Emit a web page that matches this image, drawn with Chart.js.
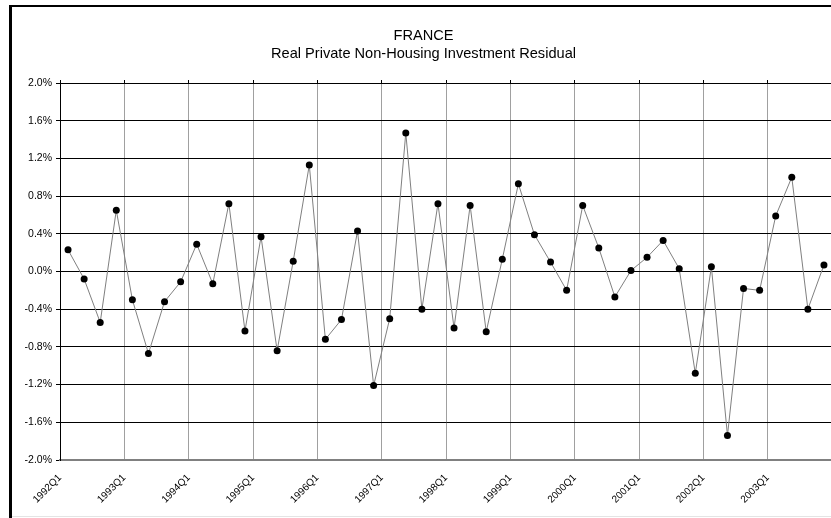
<!DOCTYPE html>
<html>
<head>
<meta charset="utf-8">
<script src="https://cdn.jsdelivr.net/npm/chart.js@4.4.1/dist/chart.umd.min.js"></script>
<style>
  html, body { margin: 0; padding: 0; background: #fff; overflow: hidden; }
  #wrap { width: 844px; height: 518px; }
</style>
</head>
<body>
<div id="wrap"><canvas id="chart" width="844" height="518"></canvas></div>
<script>
// 분기 라벨 (1992Q1 ~ 2003Q4)
const quarters = [
  '1992Q1', '1992Q2', '1992Q3', '1992Q4',
  '1993Q1', '1993Q2', '1993Q3', '1993Q4',
  '1994Q1', '1994Q2', '1994Q3', '1994Q4',
  '1995Q1', '1995Q2', '1995Q3', '1995Q4',
  '1996Q1', '1996Q2', '1996Q3', '1996Q4',
  '1997Q1', '1997Q2', '1997Q3', '1997Q4',
  '1998Q1', '1998Q2', '1998Q3', '1998Q4',
  '1999Q1', '1999Q2', '1999Q3', '1999Q4',
  '2000Q1', '2000Q2', '2000Q3', '2000Q4',
  '2001Q1', '2001Q2', '2001Q3', '2001Q4',
  '2002Q1', '2002Q2', '2002Q3', '2002Q4',
  '2003Q1', '2003Q2', '2003Q3', '2003Q4',
];

// 잔차 값 (%)
const residual = [
  0.23, -0.08, -0.54, 0.65,
  -0.30, -0.87, -0.32, -0.11,
  0.29, -0.13, 0.72, -0.63,
  0.37, -0.84, 0.11, 1.13,
  -0.72, -0.51, 0.43, -1.21,
  -0.50, 1.47, -0.40, 0.72,
  -0.60, 0.70, -0.64, 0.13,
  0.93, 0.39, 0.10, -0.20,
  0.70, 0.25, -0.27, 0.01,
  0.15, 0.33, 0.03, -1.08,
  0.05, -1.74, -0.18, -0.20,
  0.59, 1.00, -0.40, 0.07,
];

// 축 설정
const Y_MIN = -2.0;
const Y_MAX = 2.0;
const Y_STEP = 0.4;
const LABEL_EVERY = 4; // 4분기마다 눈금

const FONT = 'Liberation Sans, Arial, Helvetica, sans-serif';

// 바깥 테두리 (엑셀 차트 영역)
const framePlugin = {
  id: 'frame',
  beforeDraw(chart) {
    const ctx = chart.ctx;
    ctx.save();
    ctx.fillStyle = '#ffffff';
    ctx.fillRect(0, 0, chart.width, chart.height);
    ctx.fillStyle = '#000000';
    ctx.fillRect(9, 5, 3, 513);
    ctx.fillRect(9, 5, chart.width, 2);
    ctx.fillStyle = '#e4e4e4';
    ctx.fillRect(12, 516, chart.width, 1);
    ctx.restore();
  },
};

// 카테고리 중앙에 점을 놓기 위해 x = i + 0.5
const points = residual.map((v, i) => ({ x: i + 0.5, y: v }));

new Chart(document.getElementById('chart'), {
  type: 'line',
  data: {
    datasets: [{
      data: points,
      borderColor: '#808080',
      borderWidth: 1,
      pointRadius: 3.5,
      pointBackgroundColor: '#000000',
      pointBorderWidth: 0,
      tension: 0,
    }],
  },
  plugins: [framePlugin],
  options: {
    responsive: false,
    animation: false,
    layout: { padding: { left: 15, right: 12, top: 0, bottom: 0 } },
    plugins: {
      legend: { display: false },
      tooltip: { enabled: false },
      title: {
        display: true,
        text: 'FRANCE',
        color: '#000',
        font: { family: FONT, size: 14.6, weight: 'normal' },
        padding: { top: 27, bottom: 1 },
      },
      subtitle: {
        display: true,
        text: 'Real Private Non-Housing Investment Residual',
        color: '#000',
        font: { family: FONT, size: 14.6, weight: 'normal' },
        padding: { top: 0, bottom: 0 },
      },
    },
    scales: {
      x: {
        type: 'linear',
        position: 'bottom',
        min: 0,
        max: quarters.length,
        afterFit: (scale) => {
          scale.height = 58;
          scale.paddingLeft = 0;
          scale.paddingRight = 0;
        },
        ticks: {
          stepSize: LABEL_EVERY,
          autoSkip: false,
          minRotation: 45,
          maxRotation: 45,
          padding: 12,
          color: '#000',
          font: { family: FONT, size: 10 },
          callback: (value) => quarters[value] || '',
        },
        grid: {
          color: '#a0a0a0',
          lineWidth: 1,
          drawTicks: false,
        },
        border: { display: true, color: '#808080', width: 2 },
      },
      x2: {
        type: 'linear',
        position: 'top',
        min: 0,
        max: quarters.length,
        afterFit: (scale) => {
          scale.height = 19.96;
          scale.paddingLeft = 0;
          scale.paddingRight = 0;
        },
        ticks: { stepSize: LABEL_EVERY, display: false },
        grid: {
          drawOnChartArea: false,
          drawTicks: true,
          tickLength: 3,
          color: '#000',
        },
        border: { display: false },
      },
      y: {
        min: Y_MIN,
        max: Y_MAX,
        afterFit: (scale) => { scale.width = 45; },
        ticks: {
          stepSize: Y_STEP,
          padding: 4,
          color: '#000',
          font: { family: FONT, size: 10.5 },
          callback: (value) => value.toFixed(1) + '%',
        },
        grid: {
          color: '#000',
          lineWidth: 1,
          tickLength: 4,
        },
        border: { display: true, color: '#000', width: 1 },
      },
    },
  },
});
</script>
</body>
</html>
